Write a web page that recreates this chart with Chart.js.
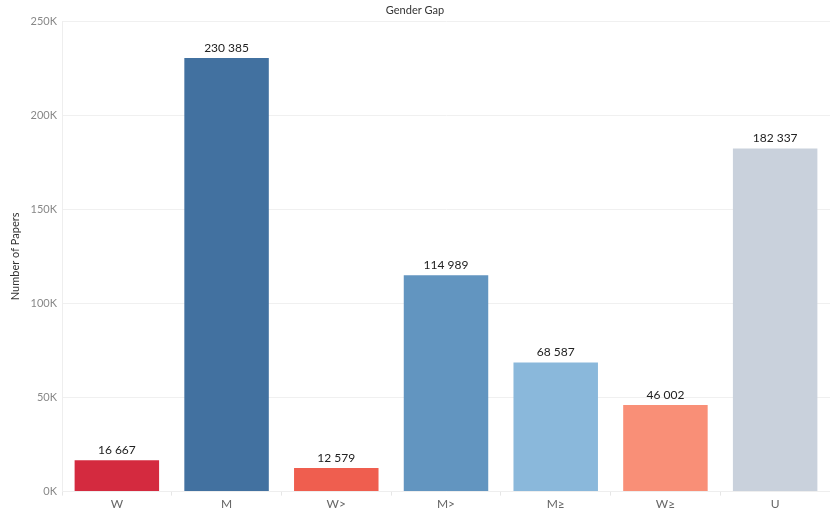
<!DOCTYPE html>
<html><head><meta charset="utf-8">
<script src="https://cdn.jsdelivr.net/npm/chart.js@4/dist/chart.umd.min.js"></script>
<style>html,body{margin:0;padding:0;background:#fff}#wrap{width:830px;height:512px}</style>
</head><body><div id="wrap"><canvas id="c"></canvas></div>
<script>
const categories = ["W","M","W>","M>","M≥","W≥","U"];
const values = [16667,230385,12579,114989,68587,46002,182337];
const barColors = ["#d42a3f","#4271a0","#ef5e4f","#6295c0","#8ab8db","#f98f77","#c9d1dc"];
const yTicks = [0,50000,100000,150000,200000,250000];

function fmtSpace(v){return String(v).replace(/\B(?=(\d{3})+(?!\d))/g," ");}

const labelPlugin = {
  id:"vals",
  afterDatasetsDraw(chart){
    const ctx = chart.ctx;
    const meta = chart.getDatasetMeta(0);
    ctx.save();
    ctx.font = "12px Lato, 'Open Sans', sans-serif";
    ctx.fillStyle = "#222";
    ctx.textAlign = "center";
    ctx.textBaseline = "bottom";
    meta.data.forEach((el,i)=>{ ctx.fillText(fmtSpace(values[i]), el.x, el.y - 4); });
    ctx.restore();
  }
};

new Chart(document.getElementById("c"),{
  type:"bar",
  data:{labels:categories,datasets:[{data:values,backgroundColor:barColors,borderWidth:0,categoryPercentage:1,barPercentage:0.77}]},
  options:{
    responsive:true,maintainAspectRatio:false,animation:false,
    layout:{padding:{left:0,right:0,top:0,bottom:0}},
    plugins:{
      legend:{display:false},tooltip:{enabled:false},
      title:{display:true,text:"Gender Gap",color:"#333",font:{family:"Lato, 'Open Sans', sans-serif",size:11,weight:"normal"},padding:{top:4,bottom:4}}
    },
    scales:{
      x:{
        grid:{display:true,drawOnChartArea:false,offset:true,color:"#e6e6e6",tickLength:4},
        border:{color:"#eeeeee"},
        ticks:{color:"#666",font:{family:"Lato, 'Open Sans', sans-serif",size:12},padding:1}
      },
      y:{
        min:0,max:250000,
        afterBuildTicks(s){s.ticks=yTicks.map(v=>({value:v}));},
        afterFit(s){s.width=62;},
        grid:{color:"#f0f0f0",drawTicks:false},
        border:{color:"#eeeeee"},
        ticks:{color:"#888",font:{family:"Lato, 'Open Sans', sans-serif",size:11},padding:5,callback:v=>(v/1000)+"K"},
        title:{display:true,text:"Number of Papers",color:"#333",font:{family:"Lato, 'Open Sans', sans-serif",size:11},padding:{top:9,bottom:0}}
      }
    }
  },
  plugins:[labelPlugin]
});
</script></body></html>
